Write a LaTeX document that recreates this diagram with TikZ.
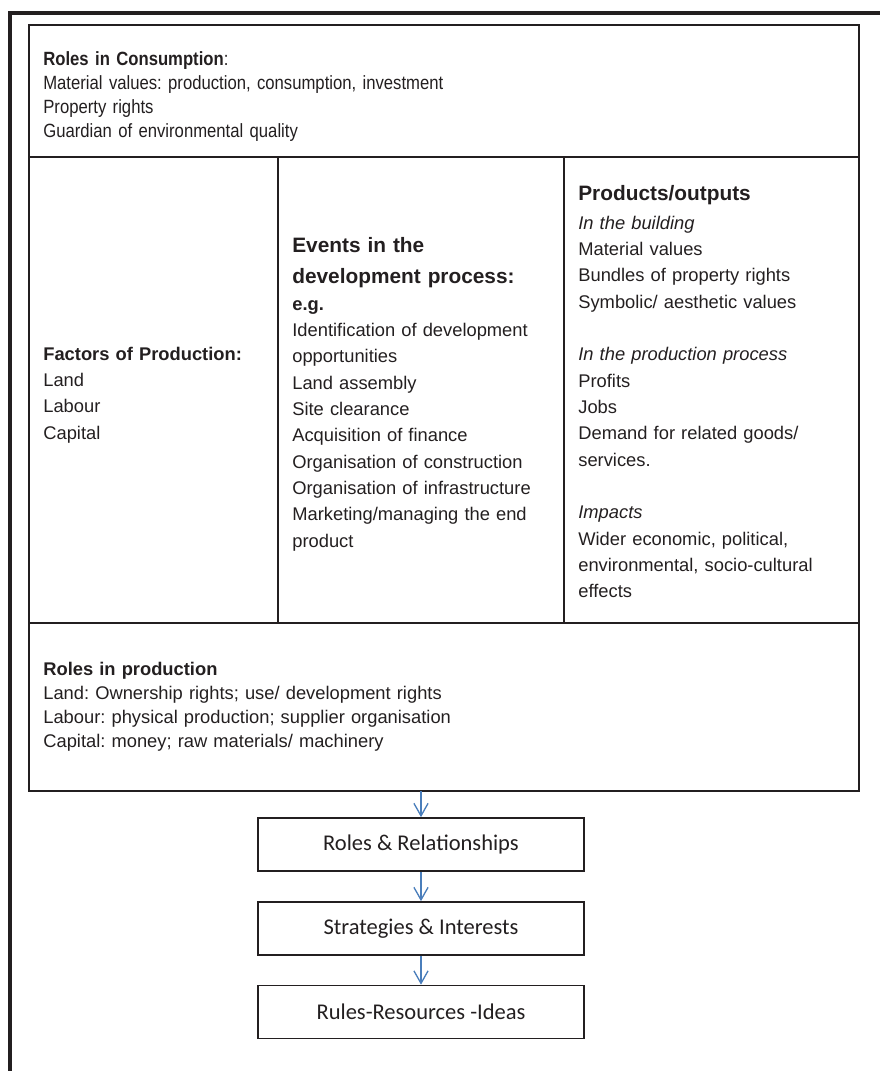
\documentclass[tikz,border=0pt]{standalone}
\usepackage{fontspec}
\setmainfont{Liberation Sans}
\newfontfamily\narrowfont{Liberation Sans}[FakeStretch=0.87]
\newfontfamily\boxfont{Carlito}
\frenchspacing
\usetikzlibrary{arrows.meta}
\definecolor{ink}{RGB}{35,31,32}
\definecolor{flowblue}{RGB}{74,126,187}
\tikzset{txt/.style={anchor=base west, inner sep=0pt, align=left, text=ink}}
\tikzset{stagebox/.style={draw=ink, line width=1pt, minimum width=195.6pt, minimum height=31.8pt, inner sep=0pt, text=ink, font=\boxfont\fontsize{13.5}{16}\selectfont}}
\tikzset{flowarrow/.style={-{Straight Barb[length=7.5pt,width=8.5pt]}, draw=flowblue, line width=0.8pt}}

\begin{document}
\begin{tikzpicture}[x=0.6pt,y=-0.6pt]
\useasboundingbox (0,0) rectangle (880,1071);

%frames
\draw[ink, line width=2.2pt] (10,1071)--(10,13)--(880,13);	 %outer
\draw[ink, line width=1.6pt] (29,25) rectangle (859,791);	 %inner
\draw[ink, line width=1.6pt] (29,157)--(859,157);
\draw[ink, line width=1.6pt] (29,623)--(859,623);
\draw[ink, line width=1.6pt] (278,157)--(278,623);
\draw[ink, line width=1.6pt] (564,157)--(564,623);

%text
\node[txt, text width=480pt, font=\narrowfont\fontsize{11.5}{14.5}\selectfont] (cons) at (43,65)
  {\textbf{Roles in Consumption}:\\Material values: production, consumption, investment\\Property rights\\Guardian of environmental quality};
\node[txt, text width=130pt, font=\fontsize{11}{15.8}\selectfont] (factors) at (43,360)
  {\textbf{Factors of Production:}\\Land\\Labour\\Capital};
\node[txt, text width=160pt, font=\bfseries\fontsize{12.5}{18.6}\selectfont] (eventshead) at (292,252)
  {Events in the\\development process:};
\node[txt, text width=160pt, font=\fontsize{11}{15.8}\selectfont] (events) at (292,310)
  {\textbf{e.g.}\\Identification of development\\opportunities\\Land assembly\\Site clearance\\Acquisition of finance\\Organisation of construction\\Organisation of infrastructure\\Marketing/managing the end\\product};
\node[txt, text width=168pt, font=\bfseries\fontsize{12.5}{18.6}\selectfont] (outhead) at (578,200) {Products/outputs};
\node[txt, text width=168pt, font=\fontsize{11}{15.8}\selectfont] (outputs) at (578,229)
  {\textit{In the building}\\Material values\\Bundles of property rights\\Symbolic/ aesthetic values\\[15.8pt]%
   \textit{In the production process}\\Profits\\Jobs\\Demand for related goods/\\services.\\[15.8pt]%
   \textit{Impacts}\\Wider economic, political,\\environmental, socio-cultural\\effects};
\node[txt, text width=480pt, font=\fontsize{11}{14.5}\selectfont] (prod) at (43,675)
  {\textbf{Roles in production}\\Land: Ownership rights; use/ development rights\\Labour: physical production; supplier organisation\\Capital: money; raw materials/ machinery};

%stages
\node[stagebox] (roles) at (421,844.5) {Roles \& Relationships};
\node[stagebox] (strat) at (421,928.5) {Strategies \& Interests};
\node[stagebox] (rules) at (421,1012)  {Rules-Resources -Ideas};

%arrows
\coordinate (tap) at (421,791);
\draw[flowarrow] (tap)--(roles);
\draw[flowarrow] (roles)--(strat);
\draw[flowarrow] (strat)--(rules);
\end{tikzpicture}
\end{document}
